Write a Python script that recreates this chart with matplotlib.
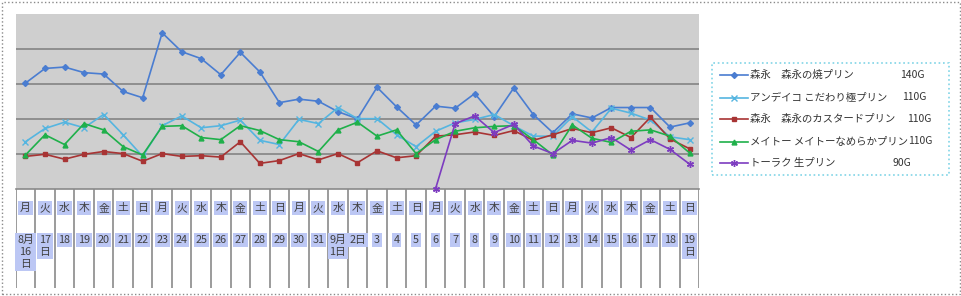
import numpy as np
import matplotlib
matplotlib.use('Agg')
import matplotlib.pyplot as plt
from matplotlib.patches import Rectangle
from matplotlib.lines import Line2D

plt.rcParams['font.family'] = ['Noto Sans CJK JP', 'DejaVu Sans']

# --- データ (8/16 〜 9/19) ---
weekdays = ['月', '火', '水', '木', '金', '土', '日'] * 5
date_labels = ['8月\n16\n日', '17\n日'] + [str(d) for d in range(18, 32)] + \
              ['9月\n1日', '2日'] + [str(d) for d in range(3, 19)] + ['19\n日']

series_names = ['森永\u3000森永の焼プリン', 'アンデイコ こだわり極プリン',
                '森永\u3000森永のカスタードプリン', 'メイトー メイトーなめらかプリン',
                'トーラク 生プリン']
series_prices = ['140G', '110G', '110G', '110G', '90G']

yaki = [151, 172, 174, 166, 164, 139, 130, 223, 196, 186, 163, 195, 167, 123, 128,
        125, 110, 100, 145, 117, 91, 118, 115, 136, 103, 144, 106, 80, 107, 101,
        116, 116, 116, 88, 94]
kodawari = [67, 86, 95, 87, 106, 77, 46, 90, 104, 87, 90, 98, 69, 63, 99,
            93, 116, 100, 100, 77, 60, 82, 94, 99, 106, 90, 75, 75, 103, 81,
            115, 108, 98, 74, 70]
custard = [46, 49, 42, 49, 53, 50, 39, 50, 46, 47, 45, 67, 36, 40, 50,
           41, 50, 37, 54, 44, 47, 75, 77, 81, 76, 83, 69, 77, 86, 80,
           87, 73, 102, 71, 57]
nameraka = [48, 77, 63, 93, 84, 60, 48, 89, 90, 73, 70, 90, 83, 70, 67,
            53, 84, 95, 75, 84, 50, 70, 82, 87, 89, 90, 70, 48, 91, 72,
            66, 82, 84, 75, 51]
nama = [np.nan] * 21 + [0, 93, 104, 80, 92, 61, 50, 69, 65, 73, 55, 70, 56, 35]

all_series = [yaki, kodawari, custard, nameraka, nama]
colors = ['#4a7dd1', '#55b5e0', '#a83434', '#1fb04a', '#7d3cc0']
markers = ['D', 'x', 's', '^', (6, 2, 0)]
msizes = [3, 4.5, 3, 3.5, 5]

W, H = 962, 296
fig = plt.figure(figsize=(W / 100, H / 100), dpi=100)
fig.patch.set_facecolor('white')

def fx(px):
    return px / W

def fy(py):
    return 1 - py / H

# 外枠
fig.add_artist(Rectangle((fx(2), fy(294)), fx(958), 292 / H, transform=fig.transFigure,
                         fill=False, edgecolor='#8a8a8a', linestyle=':', linewidth=1.0))

# プロットエリア
left, right = 15.7, 699.3
top, bottom = 14, 188.5
ax = fig.add_axes([fx(left), fy(bottom), fx(right - left), (bottom - top) / H])
ax.set_facecolor('#cfcfcf')
n = len(weekdays)
x = np.arange(n)
ax.set_xlim(-0.5, n - 0.5)
ax.set_ylim(0, 250)
for gy in [50, 100, 150, 200]:
    ax.axhline(gy, color='#8a8a8a', linewidth=1.3, zorder=1)
for s in ['top', 'left', 'right']:
    ax.spines[s].set_visible(False)
ax.spines['bottom'].set_color('#8a8a8a')
ax.spines['bottom'].set_linewidth(1.2)
ax.set_xticks([])
ax.set_yticks([])

for vals, c, m, ms in zip(all_series, colors, markers, msizes):
    ax.plot(x, vals, color=c, marker=m, markersize=ms, linewidth=1.2,
            markeredgewidth=1.0, zorder=3, clip_on=False)

# 表 (曜日・日付)
ax_t = fig.add_axes([fx(left), fy(288), fx(right - left), (288 - bottom) / H], sharex=ax)
ax_t.set_ylim(288 - bottom, 0)
ax_t.axis('off')
ax_t.vlines(np.arange(-0.5, n), 0, 288 - bottom, color='#8a8a8a', linewidth=1.2)
hl = dict(boxstyle='square,pad=0.15', facecolor='#bcc7f4', edgecolor='none')
for i in range(n):
    ax_t.text(i, 208 - bottom, weekdays[i], ha='center', va='center', fontsize=7.8,
              color='#404040', bbox=hl)
    ax_t.text(i, 235 - bottom, date_labels[i], ha='center', va='top', fontsize=7.8,
              color='#404040', linespacing=1.25, bbox=hl)

# 凡例
fig.add_artist(Rectangle((fx(712), fy(175)), fx(237), 112 / H, transform=fig.transFigure,
                         fill=False, edgecolor='#80d4e6', linestyle=':', linewidth=1.2))
row_y = [75, 97.5, 119, 141.5, 163]
price_x = [900, 902, 907, None, 893]
for k in range(5):
    yy = fy(row_y[k])
    fig.add_artist(Line2D([fx(720), fx(748)], [yy, yy], transform=fig.transFigure,
                          color=colors[k], linewidth=1.2))
    fig.add_artist(Line2D([fx(734)], [yy], transform=fig.transFigure, color=colors[k],
                          marker=markers[k], markersize=msizes[k], markeredgewidth=1.0))
    name_t = fig.text(fx(750), yy, series_names[k], ha='left', va='center', fontsize=7.5,
                      color='#333333')
    if price_x[k] is None:
        # 名前のすぐ後ろに続けて表示
        ax.annotate(series_prices[k], xy=(1, 0.5), xycoords=name_t, ha='left',
                    va='center', fontsize=7.5, color='#333333', annotation_clip=False)
    else:
        fig.text(fx(price_x[k]), yy, series_prices[k], ha='left', va='center',
                 fontsize=7.5, color='#333333')

fig.savefig('out.png', dpi=100)
